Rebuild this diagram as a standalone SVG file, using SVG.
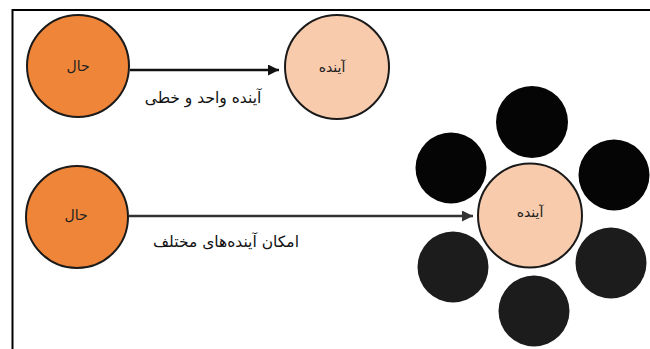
<svg xmlns="http://www.w3.org/2000/svg" width="650" height="349" viewBox="0 0 650 349">
<defs>
<style>
.now{fill:#EF8538;stroke:#1a1a1a;stroke-width:2}
.fut{fill:#F8CBAD;stroke:#1a1a1a;stroke-width:2}
.blk{fill:#050505}
.blk2{fill:#1c1c1c}
.lbl{font-family:"DejaVu Sans",sans-serif;font-size:14px;fill:#222;text-anchor:middle}
.elbl{font-family:"DejaVu Sans",sans-serif;font-size:15.5px;fill:#111;text-anchor:middle}
.edge{stroke:#111;stroke-width:2.5;fill:none}
.edge2{stroke:#333;stroke-width:2.5;fill:none}
</style>
<marker id="ah" markerWidth="11" markerHeight="11" refX="11" refY="5.5" orient="auto" markerUnits="userSpaceOnUse" viewBox="0 0 11 11">
<path d="M0,0 L11,5.5 L0,11 z" fill="#111"/>
</marker>
<marker id="ah2" markerWidth="11" markerHeight="11" refX="11" refY="5.5" orient="auto" markerUnits="userSpaceOnUse" viewBox="0 0 11 11">
<path d="M0,0 L11,5.5 L0,11 z" fill="#333"/>
</marker>
</defs>
<rect width="650" height="349" fill="#fff"/>
<path d="M12.5,349 V10 H650" fill="none" stroke="#000" stroke-width="2"/>
<g id="connectors">
<line class="edge" x1="130" y1="70" x2="279" y2="70" marker-end="url(#ah)"/>
<text class="elbl" x="203" y="103" direction="rtl">آینده واحد و خطی</text>
<line class="edge2" x1="129" y1="216" x2="473" y2="216" marker-end="url(#ah2)"/>
<text class="elbl" x="226" y="247" direction="rtl">امکان آینده‌های مختلف</text>
</g>
<g id="now1"><circle class="now" cx="78" cy="66" r="51"/><text class="lbl" x="78" y="71">حال</text></g>
<g id="future1"><circle class="fut" cx="337" cy="67" r="52"/><text class="lbl" x="332" y="72">آینده</text></g>
<g id="now2"><circle class="now" cx="77" cy="217" r="51"/><text class="lbl" x="76" y="220">حال</text></g>
<g id="b-top"><circle class="blk" cx="532" cy="122" r="36"/></g>
<g id="b-ul"><circle class="blk" cx="451" cy="168" r="35.5"/></g>
<g id="b-ur"><circle class="blk" cx="614" cy="175" r="35.5"/></g>
<g id="b-ll"><circle class="blk2" cx="453" cy="267" r="35.5"/></g>
<g id="b-lr"><circle class="blk2" cx="611" cy="263" r="35.5"/></g>
<g id="b-bot"><circle class="blk2" cx="534" cy="311" r="35.5"/></g>
<g id="future2"><circle class="fut" cx="530" cy="215.5" r="52"/><text class="lbl" x="530" y="217">آینده</text></g>
</svg>
